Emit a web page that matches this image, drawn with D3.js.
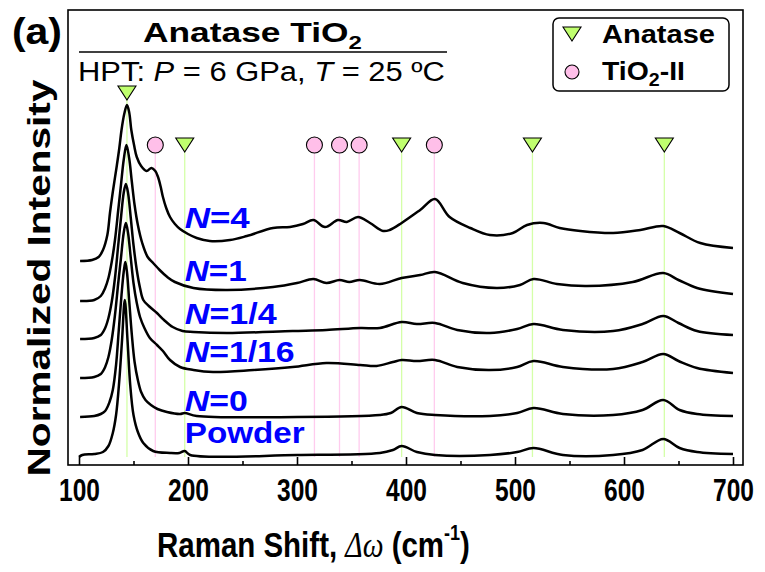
<!DOCTYPE html>
<html>
<head>
<meta charset="utf-8">
<script src="https://cdn.jsdelivr.net/npm/d3@7"></script>
<style>
  body { margin: 0; background: #fff; }
  text { font-family: Arial, "Liberation Sans", sans-serif; }
</style>
</head>
<body>
<div id="chart"></div>
<script>
// spectra: [Raman shift (cm-1), stacked normalized intensity]
var nFour = [[101,204],[112,205],[118,208],[122,215],[126,230],[128.4,252],[131,273],[134.5,298],[137,317],[139,335],[141.5,351],[144,360],[146,353],[148,335],[150.5,320],[153,308],[157,299],[162,294],[166.5,297],[170,294],[172.5,288],[175,278],[177,268],[180,257],[183.5,248],[188,241],[192.7,236],[200,231],[208,227],[220,224],[238.5,225],[254,229],[278,237],[293.6,238],[305.5,241],[315,245],[325.7,238],[337.6,245],[345.7,243],[356,248],[367,242],[379,234],[385,235],[396,242],[413,255],[426.6,266],[440,248],[459,237],[477,230],[498,232],[511,240],[526,242],[541,237],[560,234],[590,232],[615,235],[636,239],[651,232],[670,222],[700,217]];
var nOne = [[101,164],[114,165],[120,169],[124,177],[127,187],[130,203],[133,225],[136,255],[138.5,280],[141,305],[143.5,320],[146,307],[148.5,283],[151,260],[154,240],[158,222],[163,208],[168,202],[174,195],[181,188],[188,183],[205,177],[236,175],[278,178],[300,182],[315,186],[327,182],[339,185],[348,183],[357.6,185],[376,181],[396,187],[413,190],[426.6,193],[452,182],[483,177],[504.6,180],[517,186],[538.5,181],[566,179],[608,183],[636,192],[650,185],[667,177],[700,171]];
var nQuarter = [[101,126],[114,127],[120,130],[124,137],[127,147],[130,163],[133,187],[136,220],[138.5,247],[141,272],[143,281],[145,272],[147.5,247],[150,220],[153,195],[156,177],[159,165],[164,159],[171.5,152],[178,145],[186,138],[195,134],[205,133],[236,132],[296,134],[327,135],[358,137],[376,137],[396,143],[410,141],[426.6,142],[447,135],[477,132],[502,136],[517,141],[544,135],[590,134],[617,141],[636,149],[650,142],[667,134],[700,130]];
var nSixteenth = [[101,87],[114,88],[120,91],[124,98],[127,108],[130,125],[133,150],[136,182],[138.5,207],[141,232],[143,242],[145,232],[147.5,207],[150,182],[153,162],[156,148],[160,137],[165,127],[171.6,120],[177,114],[183.5,105],[192.7,98],[205,95],[223,93],[260,95],[296,98],[327,102],[358,100],[373,99],[388,103],[396,105],[410,104],[426.6,105],[447,98],[477,95],[502,98],[517,104],[544,98],[590,96],[617,103],[636,111],[650,104],[667,97],[700,92]];
var nZero = [[101,48],[114,49],[120,51],[124,54],[128,63],[131,75],[134,100],[136.5,135],[139,170],[141,193],[142.5,203],[144,193],[146,165],[148.5,130],[151,103],[154,85],[157,73],[161,65],[166,60],[172,56],[180.7,53],[192.7,51],[197,52],[208,49],[300,48],[376,50],[386,52],[396,58],[410,52],[426.6,50],[477,49],[502,52],[517,57],[544,51],[590,50],[617,55],[636,65],[651,55],[667,51],[700,49]];
var powder = [[100,8],[103,10],[114,11],[122,13],[127,19],[131,32],[134,50],[137,85],[139.5,125],[142,165],[144.5,125],[147,80],[150,50],[154,33],[159,22],[168,14],[183.5,12],[192,12],[197,14],[202,10],[300,10],[376,12],[388,15],[396,19],[410,13],[426.6,10],[477,10],[502,13],[517,17],[544,10],[590,10],[617,15],[636,26],[651,17],[667,13],[700,11]];

var spectra = [nFour, nOne, nQuarter, nSixteenth, nZero, powder];
var curveNames = ["4", "1", "1/4", "1/16", "0", "Powder"];
var labelLevels = [237, 184, 141, 103, 54, 22];
var labelWidths = [65, 62, 92, 110, 63, 120];

var anatasePeaks = [144, 197, 396, 516, 637];
var tio2IIPeaks = [170, 316, 339, 357, 426];

var majorTicks = [100, 200, 300, 400, 500, 600, 700];
var minorTicks = [150, 250, 350, 450, 550, 650];

var W = 765, H = 572;
var frame = {left: 68, right: 743, top: 10, bottom: 465};
var green = "#c0ff6e", greenLine = "#d4ffa8", pink = "#ffbfe9", pinkLine = "#ffccee";

var svg = d3.select("#chart").append("svg")
    .attr("width", W)
    .attr("height", H);

var x = d3.scaleLinear().domain([100, 700]).range([79, 733]);
var y = d3.scaleLinear().domain([0, 455]).range([465, 10]);

// squeeze/stretch a text so it spans a given width
function fit(t, tx, ty, width, extra) {
  var len = t.node().getComputedTextLength();
  t.attr("transform", "translate(" + tx + "," + ty + ")" + (extra || "") + " scale(" + (width / len) + ",1)");
}

// reference lines
var markerTop = 320;
svg.append("g").selectAll("line.an")
    .data(anatasePeaks)
  .enter().append("line")
    .attr("x1", function(d) { return x(d); })
    .attr("x2", function(d) { return x(d); })
    .attr("y1", function(d, i) { return i === 0 ? y(372) : y(markerTop) + 7; })
    .attr("y2", y(8))
    .attr("stroke", greenLine)
    .attr("stroke-width", 1.3);
svg.append("g").selectAll("line.t2")
    .data(tio2IIPeaks)
  .enter().append("line")
    .attr("x1", function(d) { return x(d); })
    .attr("x2", function(d) { return x(d); })
    .attr("y1", y(markerTop) + 8)
    .attr("y2", y(8))
    .attr("stroke", pinkLine)
    .attr("stroke-width", 1.3);

// spectra
var line = d3.line()
    .x(function(d) { return x(d[0]); })
    .y(function(d) { return y(d[1]); })
    .curve(d3.curveCatmullRom.alpha(0.5));
svg.append("g").selectAll("path")
    .data(spectra)
  .enter().append("path")
    .attr("d", line)
    .attr("fill", "none")
    .attr("stroke", "#000")
    .attr("stroke-width", 2.5)
    .attr("stroke-linejoin", "round");

// markers
var tri = "M-9,-7L9,-7L0,7Z";
svg.append("g").selectAll("path")
    .data(anatasePeaks)
  .enter().append("path")
    .attr("d", tri)
    .attr("transform", function(d, i) { return "translate(" + x(d) + "," + (i === 0 ? y(372) : y(markerTop)) + ")"; })
    .attr("fill", green)
    .attr("stroke", "#000")
    .attr("stroke-width", 1.1);
svg.append("g").selectAll("circle")
    .data(tio2IIPeaks)
  .enter().append("circle")
    .attr("cx", function(d) { return x(d); })
    .attr("cy", y(markerTop))
    .attr("r", 8)
    .attr("fill", pink)
    .attr("stroke", "#000")
    .attr("stroke-width", 1.1);

// curve labels
curveNames.forEach(function(name, i) {
  var t = svg.append("text")
      .attr("font-size", 29)
      .attr("font-weight", "bold")
      .attr("fill", "#0000ff");
  if (name === "Powder") {
    t.text(name);
  } else {
    t.append("tspan").attr("font-style", "italic").text("N");
    t.append("tspan").text("=" + name);
  }
  fit(t, x(197), y(labelLevels[i]), labelWidths[i]);
});

// frame
svg.append("rect")
    .attr("x", frame.left)
    .attr("y", frame.top)
    .attr("width", frame.right - frame.left)
    .attr("height", frame.bottom - frame.top)
    .attr("fill", "none")
    .attr("stroke", "#000")
    .attr("stroke-width", 1.6);

// x axis
var xAxis = svg.append("g")
    .attr("transform", "translate(0," + frame.bottom + ")")
    .call(d3.axisBottom(x).tickValues(majorTicks).tickSize(-8).tickPadding(14).tickFormat(d3.format("d")));
xAxis.select(".domain").remove();
xAxis.selectAll("line").attr("stroke-width", 1.6);
xAxis.selectAll("text")
    .attr("font-size", 31)
    .attr("font-weight", "bold")
    .attr("font-family", "Arial, 'Liberation Sans', sans-serif")
    .attr("fill", "#000");
var tickLen = xAxis.select("text").node().getComputedTextLength();
xAxis.selectAll("text").attr("transform", "scale(" + (41 / tickLen) + ",1)");
var xMinor = svg.append("g")
    .attr("transform", "translate(0," + frame.bottom + ")")
    .call(d3.axisBottom(x).tickValues(minorTicks).tickSize(-4).tickFormat(""));
xMinor.select(".domain").remove();
xMinor.selectAll("line").attr("stroke-width", 1.6);

// x title
var xt = svg.append("text")
    .attr("font-size", 36)
    .attr("font-weight", "bold")
    .attr("fill", "#000");
xt.append("tspan").text("Raman Shift, ");
xt.append("tspan").attr("font-style", "italic").attr("font-weight", "normal")
    .attr("font-family", "'Liberation Serif', 'DejaVu Serif', serif").text("\u0394\u03C9");
xt.append("tspan").text("  (cm");
xt.append("tspan").attr("font-size", 22).attr("dy", -17).text("-1");
xt.append("tspan").attr("dy", 17).text(")");
fit(xt, 157, 557, 313);

// y title
var yt = svg.append("text")
    .attr("font-size", 31)
    .attr("font-weight", "bold")
    .attr("text-anchor", "middle")
    .text("Normalized Intensity");
fit(yt, 50, 278, 397, " rotate(-90)");

// panel label and header
var pa = svg.append("text").attr("font-size", 36).attr("font-weight", "bold").text("(a)");
fit(pa, 12, 44, 50);

var title = svg.append("text").attr("font-size", 28).attr("font-weight", "bold");
title.append("tspan").text("Anatase TiO");
title.append("tspan").attr("font-size", 19).attr("dy", 7).text("2");
fit(title, 143, 42, 219);

svg.append("line")
    .attr("x1", 79).attr("x2", 447)
    .attr("y1", 52).attr("y2", 52)
    .attr("stroke", "#000")
    .attr("stroke-width", 1.6);

var hpt = svg.append("text").attr("font-size", 28);
hpt.append("tspan").text("HPT: ");
hpt.append("tspan").attr("font-style", "italic").text("P");
hpt.append("tspan").text(" = 6 GPa, ");
hpt.append("tspan").attr("font-style", "italic").text("T");
hpt.append("tspan").text(" = 25 \u00BAC");
fit(hpt, 78, 81, 367);

// legend
var lg = svg.append("g");
lg.append("rect")
    .attr("x", 553).attr("y", 18)
    .attr("width", 176).attr("height", 73)
    .attr("rx", 6)
    .attr("fill", "#fff")
    .attr("stroke", "#000")
    .attr("stroke-width", 1.5);
lg.append("path")
    .attr("d", tri)
    .attr("transform", "translate(572,34)")
    .attr("fill", green)
    .attr("stroke", "#000")
    .attr("stroke-width", 1.1);
lg.append("circle")
    .attr("cx", 572).attr("cy", 72).attr("r", 7)
    .attr("fill", pink)
    .attr("stroke", "#000")
    .attr("stroke-width", 1.1);
var la = lg.append("text").attr("font-size", 26).attr("font-weight", "bold").text("Anatase");
fit(la, 602, 43, 113);
var lt = lg.append("text").attr("font-size", 26).attr("font-weight", "bold");
lt.append("tspan").text("TiO");
lt.append("tspan").attr("font-size", 18).attr("dy", 6).text("2");
lt.append("tspan").attr("dy", -6).text("-II");
fit(lt, 602, 80, 83);
</script>
</body>
</html>
